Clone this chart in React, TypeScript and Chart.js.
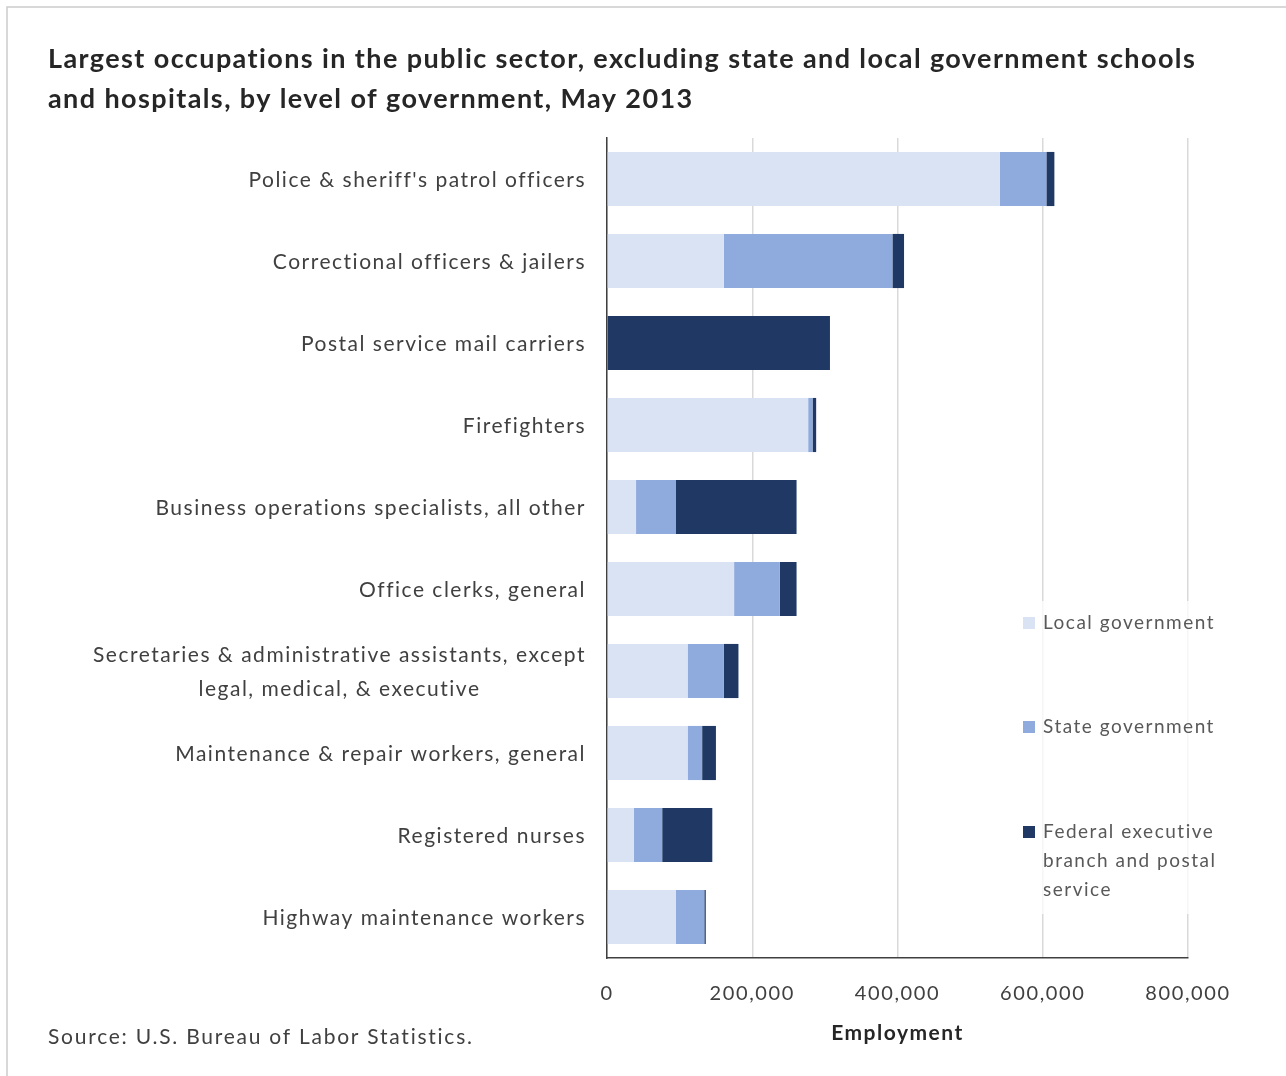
import React, { useEffect, useRef } from 'react';
import Chart from 'chart.js/auto';

const titleLines = [
  'Largest occupations in the public sector, excluding state and local government schools',
  'and hospitals, by level of government, May 2013',
];
const categories: (string | string[])[] = [
  "Police & sheriff's patrol officers",
  'Correctional officers & jailers',
  'Postal service mail carriers',
  'Firefighters',
  'Business operations specialists, all other',
  'Office clerks, general',
  ['Secretaries & administrative assistants, except', 'legal, medical, & executive'],
  'Maintenance & repair workers, general',
  'Registered nurses',
  'Highway maintenance workers',
];
const localGov = [541000, 161000, 0, 277000, 40000, 175000, 111000, 111000, 37000, 95000];
const stateGov = [64000, 232000, 0, 6000, 55000, 63000, 50000, 20000, 39000, 39000];
const federalGov = [11000, 16000, 307000, 5000, 166000, 23000, 20000, 19000, 69000, 2000];
const seriesNames: string[][] = [
  ['Local government'],
  ['State government'],
  ['Federal executive', 'branch and postal', 'service'],
];
const seriesColors = ['#dae3f3', '#8faadc', '#203864'];
const xTicks = [0, 200000, 400000, 600000, 800000];
const xAxisTitle = 'Employment';
const sourceText = 'Source: U.S. Bureau of Labor Statistics.';

const FONT = 'Lato, "Liberation Sans", sans-serif';

export default function App() {
  const ref = useRef<HTMLCanvasElement | null>(null);
  useEffect(() => {
    document.body.style.margin = '0';
    const canvas = ref.current!;
    const deco = {
      id: 'deco',
      beforeDraw(chart: any) {
        const ctx = chart.ctx;
        ctx.save();
        ctx.fillStyle = '#ffffff';
        ctx.fillRect(0, 0, chart.width, chart.height);
        ctx.strokeStyle = '#cccccc';
        ctx.lineWidth = 1.5;
        ctx.beginPath();
        ctx.moveTo(7, chart.height);
        ctx.lineTo(7, 7);
        ctx.lineTo(chart.width, 7);
        ctx.stroke();
        ctx.restore();
        ctx.letterSpacing = '1.6px';
      },
      afterDraw(chart: any) {
        const ctx = chart.ctx;
        const ys = chart.scales.y;
        const xs = chart.scales.x;
        ctx.save();
        // title
        ctx.fillStyle = '#262626';
        ctx.font = `bold 27px ${FONT}`;
        ctx.letterSpacing = '1.4px';
        ctx.textAlign = 'left';
        ctx.textBaseline = 'middle';
        titleLines.forEach((t, i) => ctx.fillText(t, 48, 59 + i * 40));
        // category labels
        ctx.fillStyle = '#404040';
        ctx.font = `21px ${FONT}`;
        ctx.letterSpacing = '1.5px';
        categories.forEach((c, i) => {
          const lines = Array.isArray(c) ? c : [c];
          const py = ys.getPixelForValue(i);
          const w = Math.max(...lines.map((l) => ctx.measureText(l).width));
          const right = 586;
          ctx.textAlign = 'left';
          lines.forEach((l, j) => {
            const lw = ctx.measureText(l).width;
            ctx.fillText(l, right - w / 2 - lw / 2, py + 1 + (j - (lines.length - 1) / 2) * 34);
          });
        });
        // x axis title
        ctx.font = `bold 21px ${FONT}`;
        ctx.letterSpacing = '1.5px';
        ctx.fillStyle = '#262626';
        ctx.textAlign = 'left';
        const tw = ctx.measureText(xAxisTitle).width;
        ctx.fillText(xAxisTitle, (xs.left + xs.right) / 2 - tw / 2, 1033);
        // source
        ctx.font = `21px ${FONT}`;
        ctx.letterSpacing = '1.75px';
        ctx.fillStyle = '#404040';
        ctx.textAlign = 'left';
        ctx.fillText(sourceText, 48, 1037);
        // legend
        ctx.fillStyle = 'rgba(255,255,255,0.75)';
        ctx.fillRect(1018, 601, 207, 313);
        const legendY = [623, 727, 832];
        seriesNames.forEach((lines, i) => {
          ctx.fillStyle = seriesColors[i];
          ctx.fillRect(1023, legendY[i] - 6, 12, 12);
          ctx.fillStyle = '#595959';
          ctx.font = `19px ${FONT}`;
          ctx.letterSpacing = '1.5px';
          ctx.textAlign = 'left';
          lines.forEach((l, j) => ctx.fillText(l, 1043, legendY[i] + j * 29));
        });
        ctx.restore();
        ctx.letterSpacing = '0px';
      },
    };
    const chart = new Chart(canvas, {
      type: 'bar',
      data: {
        labels: categories as any,
        datasets: [
          { label: seriesNames[0].join(' '), data: localGov, backgroundColor: seriesColors[0] },
          { label: seriesNames[1].join(' '), data: stateGov, backgroundColor: seriesColors[1] },
          { label: seriesNames[2].join(' '), data: federalGov, backgroundColor: seriesColors[2] },
        ],
      },
      options: {
        indexAxis: 'y',
        animation: false,
        responsive: false,
        maintainAspectRatio: false,
        datasets: { bar: { categoryPercentage: 1, barPercentage: 0.66, borderWidth: 0 } },
        layout: { padding: { left: 0, top: 138, right: 98, bottom: 58 } },
        plugins: { legend: { display: false }, tooltip: { enabled: false }, title: { display: false } },
        scales: {
          x: {
            stacked: true,
            min: 0,
            max: 800000,
            afterBuildTicks: (s: any) => {
              s.ticks = xTicks.map((v) => ({ value: v }));
            },
            afterFit: (s: any) => {
              s.height = 60;
            },
            ticks: {
              color: '#404040',
              font: { family: FONT, size: 20 },
              padding: 24,
              maxRotation: 0,
              callback: (v: any) => Number(v).toLocaleString('en-US'),
            },
            grid: { color: '#d9d9d9', lineWidth: 1.5, drawTicks: false },
            border: { display: true, color: '#404040', width: 1.5 },
          },
          y: {
            stacked: true,
            afterFit: (s: any) => {
              s.width = 607;
            },
            ticks: { display: false },
            grid: { display: false, drawTicks: false },
            border: { display: true, color: '#404040', width: 1.5 },
          },
        },
      },
      plugins: [deco],
    });
    return () => chart.destroy();
  }, []);
  return <canvas ref={ref} width={1286} height={1076} style={{ display: 'block' }} />;
}
